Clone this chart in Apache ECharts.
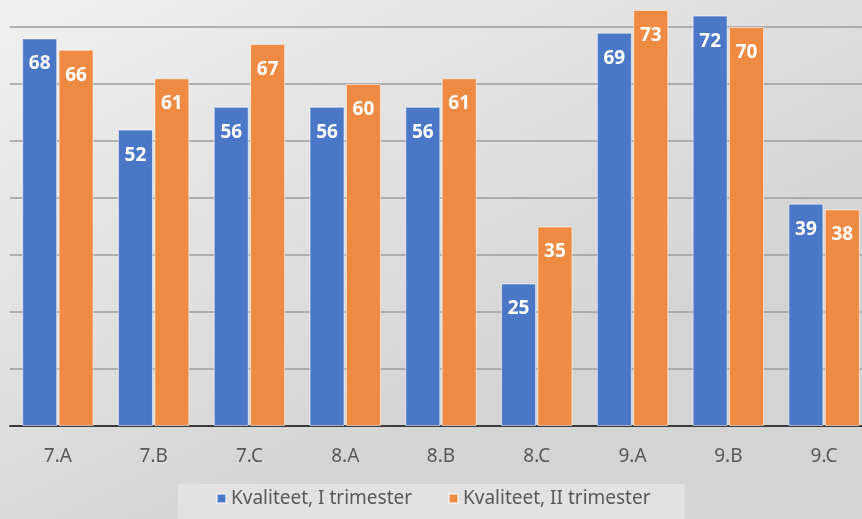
<!DOCTYPE html>
<html>
<head>
<meta charset="utf-8">
<script src="https://cdn.jsdelivr.net/npm/echarts@6/dist/echarts.min.js"></script>
<style>
  html, body { margin: 0; padding: 0; overflow: hidden; }
  #chart { width: 872px; height: 519px; }
</style>
</head>
<body>
<div id="chart"></div>
<script>
const classes = ['7.A', '7.B', '7.C', '8.A', '8.B', '8.C', '9.A', '9.B', '9.C']
const term1 = [68, 52, 56, 56, 56, 25, 69, 72, 39]
const term2 = [66, 61, 67, 60, 61, 35, 73, 70, 38]
const seriesNames = ['Kvaliteet, I trimester', 'Kvaliteet, II trimester']

// the plot runs a little past the right edge of the picture, so the
// chart div is wider than the window and the overflow is cut off
const chart = echarts.init(document.getElementById('chart'))

const barLabel = {
  show: true,
  position: 'insideTop',
  distance: 16,
  color: '#ffffff',
  fontFamily: 'Noto Sans',
  fontWeight: 'bold',
  fontSize: 19
}

const option = {
  animation: false,
  backgroundColor: {
    type: 'linear', x: 0, y: 0, x2: 0.3, y2: 1,
    colorStops: [
      { offset: 0, color: '#f0f0f0' },
      { offset: 1, color: '#d4d4d4' }
    ]
  },
  textStyle: { fontFamily: 'Noto Sans' },
  legend: {
    data: seriesNames,
    left: 178,
    top: 484,
    padding: [5, 34, 20, 38],
    backgroundColor: '#e2e2e2',
    itemWidth: 9,
    itemHeight: 9,
    itemGap: 36,
    icon: 'rect',
    textStyle: { color: '#595959', fontSize: 19, fontFamily: 'Noto Sans' }
  },
  grid: { left: 10, top: 27, bottom: 93, right: 0 },
  xAxis: {
    type: 'category',
    data: classes,
    axisLine: { lineStyle: { color: '#3a3a3a', width: 2 } },
    axisTick: { show: false },
    axisLabel: { color: '#595959', fontSize: 19, margin: 21 }
  },
  yAxis: {
    type: 'value',
    min: 0,
    max: 70,
    interval: 10,
    axisLabel: { show: false },
    axisLine: { show: false },
    axisTick: { show: false },
    splitLine: { lineStyle: { color: '#9c9c9c', width: 1.5 } }
  },
  series: [
    {
      name: seriesNames[0],
      type: 'bar',
      data: term1,
      barWidth: 35,
      barGap: '4%',
      clip: false,
      itemStyle: { color: '#4b77c7', borderColor: 'rgba(255,255,255,0.55)', borderWidth: 1 },
      label: barLabel
    },
    {
      name: seriesNames[1],
      type: 'bar',
      data: term2,
      barWidth: 35,
      clip: false,
      itemStyle: { color: '#ee8a42', borderColor: 'rgba(255,255,255,0.55)', borderWidth: 1 },
      label: barLabel
    }
  ]
}

chart.setOption(option)
</script>
</body>
</html>
